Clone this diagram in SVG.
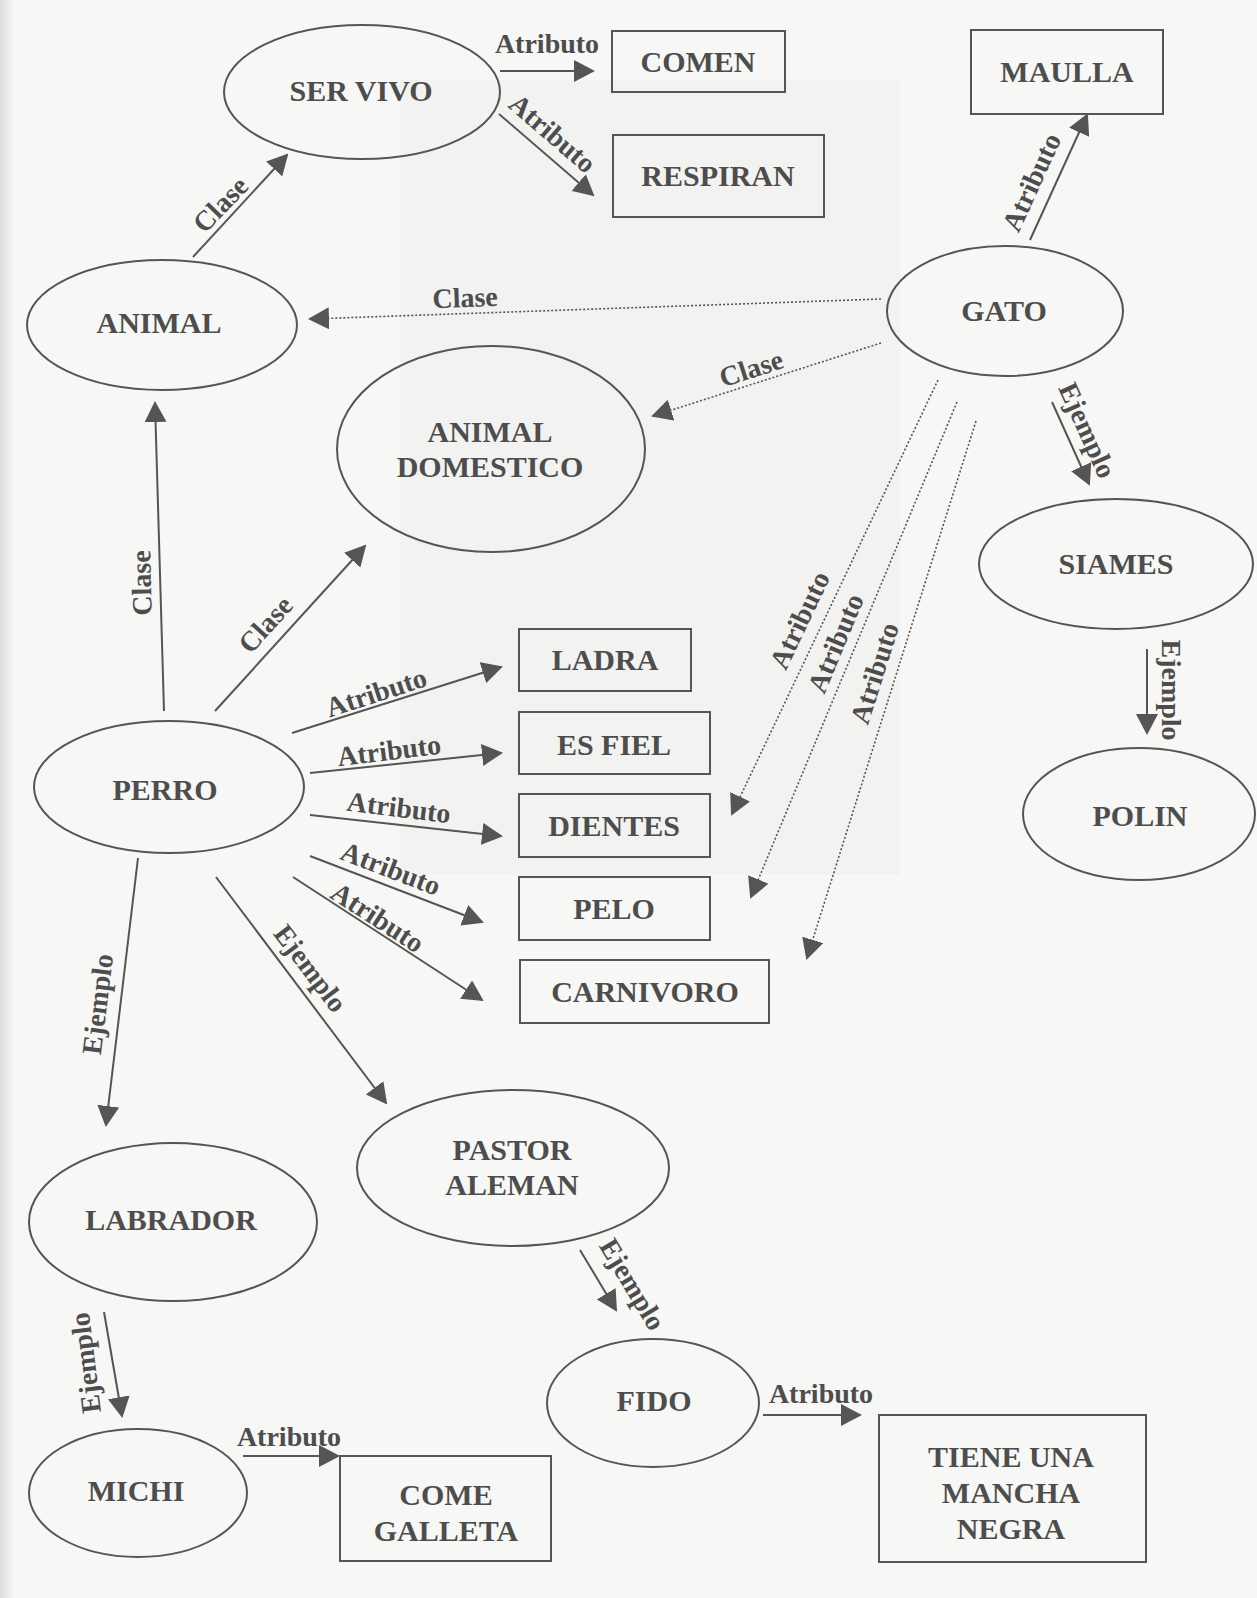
<svg xmlns="http://www.w3.org/2000/svg" width="1257" height="1598" viewBox="0 0 1257 1598">
<defs>
<linearGradient id="edge" x1="0" y1="0" x2="1" y2="0">
<stop offset="0" stop-color="#dcdcda"/>
<stop offset="1" stop-color="#f7f7f5"/>
</linearGradient>
<marker id="ah" viewBox="0 0 21 22" refX="19" refY="11" markerWidth="21" markerHeight="22" markerUnits="userSpaceOnUse" orient="auto">
<path d="M0,0 L21,11 L0,22 z" fill="#555"/>
</marker>
</defs>
<style>
.bg{fill:#f7f7f5}
.shape{fill:none;stroke:#555;stroke-width:2}
.t{font-family:"Liberation Serif","Times New Roman",serif;font-weight:bold;font-size:30px;fill:#4d4d4d;text-anchor:middle}
.l{font-family:"Liberation Serif","Times New Roman",serif;font-weight:bold;font-size:28px;fill:#4d4d4d;text-anchor:middle}
.c{stroke:#555;stroke-width:2;fill:none;marker-end:url(#ah)}
.d{stroke:#555;stroke-width:1.6;fill:none;stroke-dasharray:2 2;marker-end:url(#ah)}
</style>
<rect class="bg" x="0" y="0" width="1257" height="1598"/>
<rect x="0" y="0" width="14" height="1598" fill="url(#edge)"/>
<rect x="400" y="80" width="500" height="795" fill="#f2f2f0"/>

<g id="connectors">
<line class="c" x1="500" y1="71" x2="593" y2="71"/>
<line class="c" x1="499" y1="114" x2="593" y2="195"/>
<line class="c" x1="193" y1="257" x2="287" y2="155"/>
<line class="c" x1="1030" y1="240" x2="1087" y2="115"/>
<line class="d" x1="881" y1="299" x2="310" y2="319"/>
<line class="d" x1="881" y1="343" x2="653" y2="416"/>
<line class="d" x1="938" y1="380" x2="732" y2="814"/>
<line class="d" x1="957" y1="402" x2="751" y2="897"/>
<line class="d" x1="976" y1="421" x2="807" y2="958"/>
<line class="c" x1="1052" y1="402" x2="1089" y2="484"/>
<line class="c" x1="1147" y1="649" x2="1147" y2="733"/>
<line class="c" x1="164" y1="711" x2="155" y2="403"/>
<line class="c" x1="215" y1="711" x2="365" y2="546"/>
<line class="c" x1="292" y1="733" x2="501" y2="667"/>
<line class="c" x1="310" y1="773" x2="501" y2="753"/>
<line class="c" x1="310" y1="815" x2="501" y2="836"/>
<line class="c" x1="310" y1="856" x2="482" y2="922"/>
<line class="c" x1="293" y1="877" x2="482" y2="1000"/>
<line class="c" x1="138" y1="858" x2="106" y2="1125"/>
<line class="c" x1="216" y1="877" x2="386" y2="1103"/>
<line class="c" x1="580" y1="1250" x2="616" y2="1310"/>
<line class="c" x1="763" y1="1415" x2="860" y2="1415"/>
<line class="c" x1="104" y1="1312" x2="122" y2="1416"/>
<line class="c" x1="243" y1="1456" x2="338" y2="1456"/>

<text class="l" x="547" y="53">Atributo</text>
<text class="l" transform="translate(553,133) rotate(40.7)" y="10">Atributo</text>
<text class="l" transform="translate(220,204) rotate(-46)" y="10">Clase</text>
<text class="l" transform="translate(1031,182) rotate(-65.5)" y="10">Atributo</text>
<text class="l" transform="translate(465,297) rotate(-2)" y="10">Clase</text>
<text class="l" transform="translate(751,368) rotate(-17.8)" y="10">Clase</text>
<text class="l" transform="translate(799,620) rotate(-64.6)" y="10">Atributo</text>
<text class="l" transform="translate(835,643) rotate(-67.4)" y="10">Atributo</text>
<text class="l" transform="translate(874,673) rotate(-72.5)" y="10">Atributo</text>
<text class="l" transform="translate(1088,430) rotate(65.7)" y="10">Ejemplo</text>
<text class="l" transform="translate(1172,690) rotate(90)" y="10">Ejemplo</text>
<text class="l" transform="translate(141,583) rotate(-91.5)" y="10">Clase</text>
<text class="l" transform="translate(265,624) rotate(-47.7)" y="10">Clase</text>
<text class="l" transform="translate(376,692) rotate(-18)" y="10">Atributo</text>
<text class="l" transform="translate(389,750) rotate(-7)" y="10">Atributo</text>
<text class="l" transform="translate(399,807) rotate(7)" y="10">Atributo</text>
<text class="l" transform="translate(391,868) rotate(21)" y="10">Atributo</text>
<text class="l" transform="translate(378,917) rotate(33)" y="10">Atributo</text>
<text class="l" transform="translate(97,1004) rotate(-83)" y="10">Ejemplo</text>
<text class="l" transform="translate(311,968) rotate(53)" y="10">Ejemplo</text>
<text class="l" transform="translate(633,1284) rotate(59)" y="10">Ejemplo</text>
<text class="l" x="821" y="1403">Atributo</text>
<text class="l" transform="translate(85,1363) rotate(-97)" y="10">Ejemplo</text>
<text class="l" x="289" y="1446">Atributo</text>
</g>

<g id="ser-vivo"><ellipse class="shape" cx="362" cy="92" rx="138" ry="67"/><text class="t" x="361" y="101">SER VIVO</text></g>
<g id="comen"><rect class="shape" x="612" y="31" width="173" height="61"/><text class="t" x="698" y="72">COMEN</text></g>
<g id="respiran"><rect class="shape" x="613" y="135" width="211" height="82"/><text class="t" x="718" y="186">RESPIRAN</text></g>
<g id="maulla"><rect class="shape" x="971" y="30" width="192" height="84"/><text class="t" x="1067" y="82">MAULLA</text></g>
<g id="animal"><ellipse class="shape" cx="162" cy="325" rx="135" ry="65"/><text class="t" x="159" y="333">ANIMAL</text></g>
<g id="gato"><ellipse class="shape" cx="1005" cy="311" rx="118" ry="65"/><text class="t" x="1004" y="321">GATO</text></g>
<g id="animal-domestico"><ellipse class="shape" cx="491" cy="449" rx="154" ry="103"/><text class="t" x="490" y="442">ANIMAL</text><text class="t" x="490" y="477">DOMESTICO</text></g>
<g id="siames"><ellipse class="shape" cx="1116" cy="564" rx="137" ry="65"/><text class="t" x="1116" y="574">SIAMES</text></g>
<g id="polin"><ellipse class="shape" cx="1139" cy="814" rx="116" ry="66"/><text class="t" x="1140" y="826">POLIN</text></g>
<g id="perro"><ellipse class="shape" cx="169" cy="787" rx="135" ry="66"/><text class="t" x="165" y="800">PERRO</text></g>
<g id="ladra"><rect class="shape" x="519" y="629" width="172" height="62"/><text class="t" x="605" y="670">LADRA</text></g>
<g id="es-fiel"><rect class="shape" x="519" y="712" width="191" height="62"/><text class="t" x="614" y="755">ES FIEL</text></g>
<g id="dientes"><rect class="shape" x="519" y="794" width="191" height="63"/><text class="t" x="614" y="836">DIENTES</text></g>
<g id="pelo"><rect class="shape" x="519" y="877" width="191" height="63"/><text class="t" x="614" y="919">PELO</text></g>
<g id="carnivoro"><rect class="shape" x="520" y="960" width="249" height="63"/><text class="t" x="645" y="1002">CARNIVORO</text></g>
<g id="labrador"><ellipse class="shape" cx="173" cy="1222" rx="144" ry="79"/><text class="t" x="171" y="1230">LABRADOR</text></g>
<g id="pastor-aleman"><ellipse class="shape" cx="513" cy="1168" rx="156" ry="78"/><text class="t" x="512" y="1160">PASTOR</text><text class="t" x="512" y="1195">ALEMAN</text></g>
<g id="fido"><ellipse class="shape" cx="653" cy="1403" rx="106" ry="64"/><text class="t" x="654" y="1411">FIDO</text></g>
<g id="tiene-mancha"><rect class="shape" x="879" y="1415" width="267" height="147"/><text class="t" x="1011" y="1467">TIENE UNA</text><text class="t" x="1011" y="1503">MANCHA</text><text class="t" x="1011" y="1539">NEGRA</text></g>
<g id="michi"><ellipse class="shape" cx="138" cy="1493" rx="109" ry="64"/><text class="t" x="136" y="1501">MICHI</text></g>
<g id="come-galleta"><rect class="shape" x="340" y="1456" width="211" height="105"/><text class="t" x="446" y="1505">COME</text><text class="t" x="446" y="1541">GALLETA</text></g>
</svg>
